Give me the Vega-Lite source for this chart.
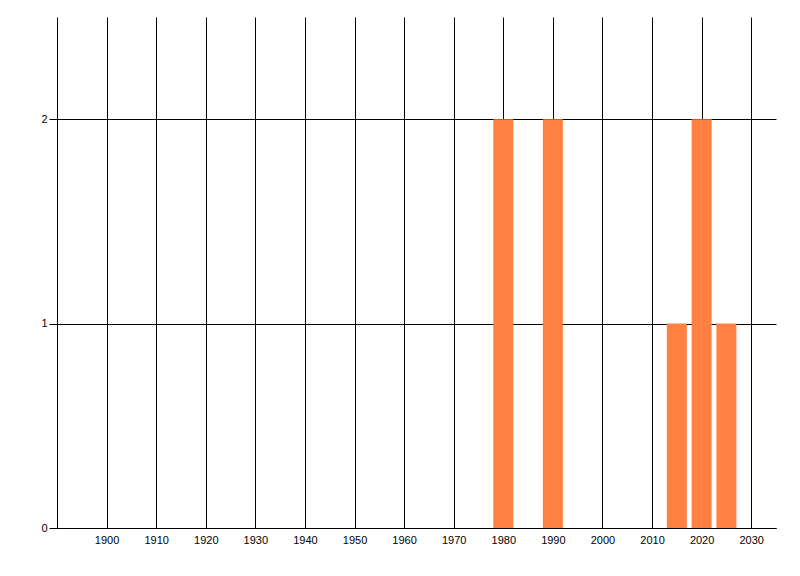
{
  "$schema": "https://vega.github.io/schema/vega-lite/v6.json",
  "autosize": "none",
  "padding": {"left": 57, "top": 17, "right": 24, "bottom": 48},
  "width": 719,
  "height": 511,
  "background": "white",
  "config": {
    "view": {"stroke": null},
    "axis": {
      "labelFont": "Liberation Sans",
      "labelFontSize": 11,
      "labelColor": "#000000",
      "domainColor": "#000000",
      "tickColor": "#000000",
      "gridColor": "#000000",
      "gridOpacity": 1,
      "domainWidth": 1,
      "gridWidth": 1,
      "tickWidth": 1,
      "title": null
    }
  },
  "data": {
    "values": [
      {"year": 1980, "count": 2},
      {"year": 1990, "count": 2},
      {"year": 2015, "count": 1},
      {"year": 2020, "count": 2},
      {"year": 2025, "count": 1}
    ]
  },
  "mark": {"type": "bar", "width": 20, "color": "#FF8040"},
  "encoding": {
    "x": {
      "field": "year",
      "type": "quantitative",
      "scale": {"domain": [1890, 2035], "nice": false, "zero": false, "padding": 0},
      "axis": {
        "values": [1900, 1910, 1920, 1930, 1940, 1950, 1960, 1970, 1980, 1990, 2000, 2010, 2020, 2030],
        "format": "d",
        "ticks": false,
        "labelPadding": 6,
        "grid": true
      }
    },
    "y": {
      "field": "count",
      "type": "quantitative",
      "scale": {"domain": [0, 2.5], "nice": false, "padding": 0},
      "axis": {
        "values": [0, 1, 2],
        "format": "d",
        "tickSize": 8,
        "labelPadding": 2,
        "grid": true
      }
    }
  }
}
